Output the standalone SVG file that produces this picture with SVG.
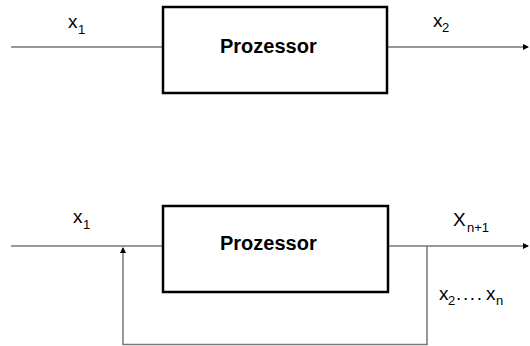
<svg xmlns="http://www.w3.org/2000/svg" width="530" height="346" viewBox="0 0 530 346">
<defs>
<style>
.box{fill:#fff;stroke:#000;stroke-width:2.5}
.ln{fill:none;stroke:#777;stroke-width:1.5}
.t{font-family:"Liberation Sans",Arial,sans-serif;fill:#000}
.b{font-size:20px;font-weight:bold}
.v{font-size:19px}
.s{font-size:13px}
</style>
<marker id="ah" markerWidth="6" markerHeight="6" refX="5" refY="3" orient="auto" markerUnits="userSpaceOnUse">
<path d="M0,0 L6,3 L0,6 Z" fill="#000"/>
</marker>
</defs>
<g id="connectors">
<line class="ln" x1="11" y1="47" x2="163" y2="47"/>
<line class="ln" x1="387" y1="47" x2="528" y2="47" marker-end="url(#ah)"/>
<line class="ln" x1="11" y1="246" x2="163" y2="246"/>
<line class="ln" x1="388" y1="246" x2="528" y2="246" marker-end="url(#ah)"/>
<polyline class="ln" points="427,246 427,344.5 123,344.5 123,248" marker-end="url(#ah)"/>
</g>
<g id="processor1">
<rect class="box" x="163" y="7" width="224" height="86"/>
<text class="t b" x="220" y="53">Prozessor</text>
</g>
<g id="processor2">
<rect class="box" x="163" y="206" width="225" height="86"/>
<text class="t b" x="220" y="250">Prozessor</text>
</g>
<g id="labels">
<text class="t v" x="68" y="28">x<tspan class="s" x="78" y="34">1</tspan></text>
<text class="t v" x="433" y="27">x<tspan class="s" x="442" y="32">2</tspan></text>
<text class="t v" x="73" y="223">x<tspan class="s" x="83" y="229">1</tspan></text>
<text class="t v" x="453" y="226">X<tspan class="s" x="467" y="232">n+1</tspan></text>
<text class="t v" x="439" y="300">x<tspan class="s" x="448" y="305">2</tspan><tspan x="456" y="300" letter-spacing="1.6">....</tspan><tspan x="486" y="300">x</tspan><tspan class="s" x="496" y="305">n</tspan></text>
</g>
</svg>
